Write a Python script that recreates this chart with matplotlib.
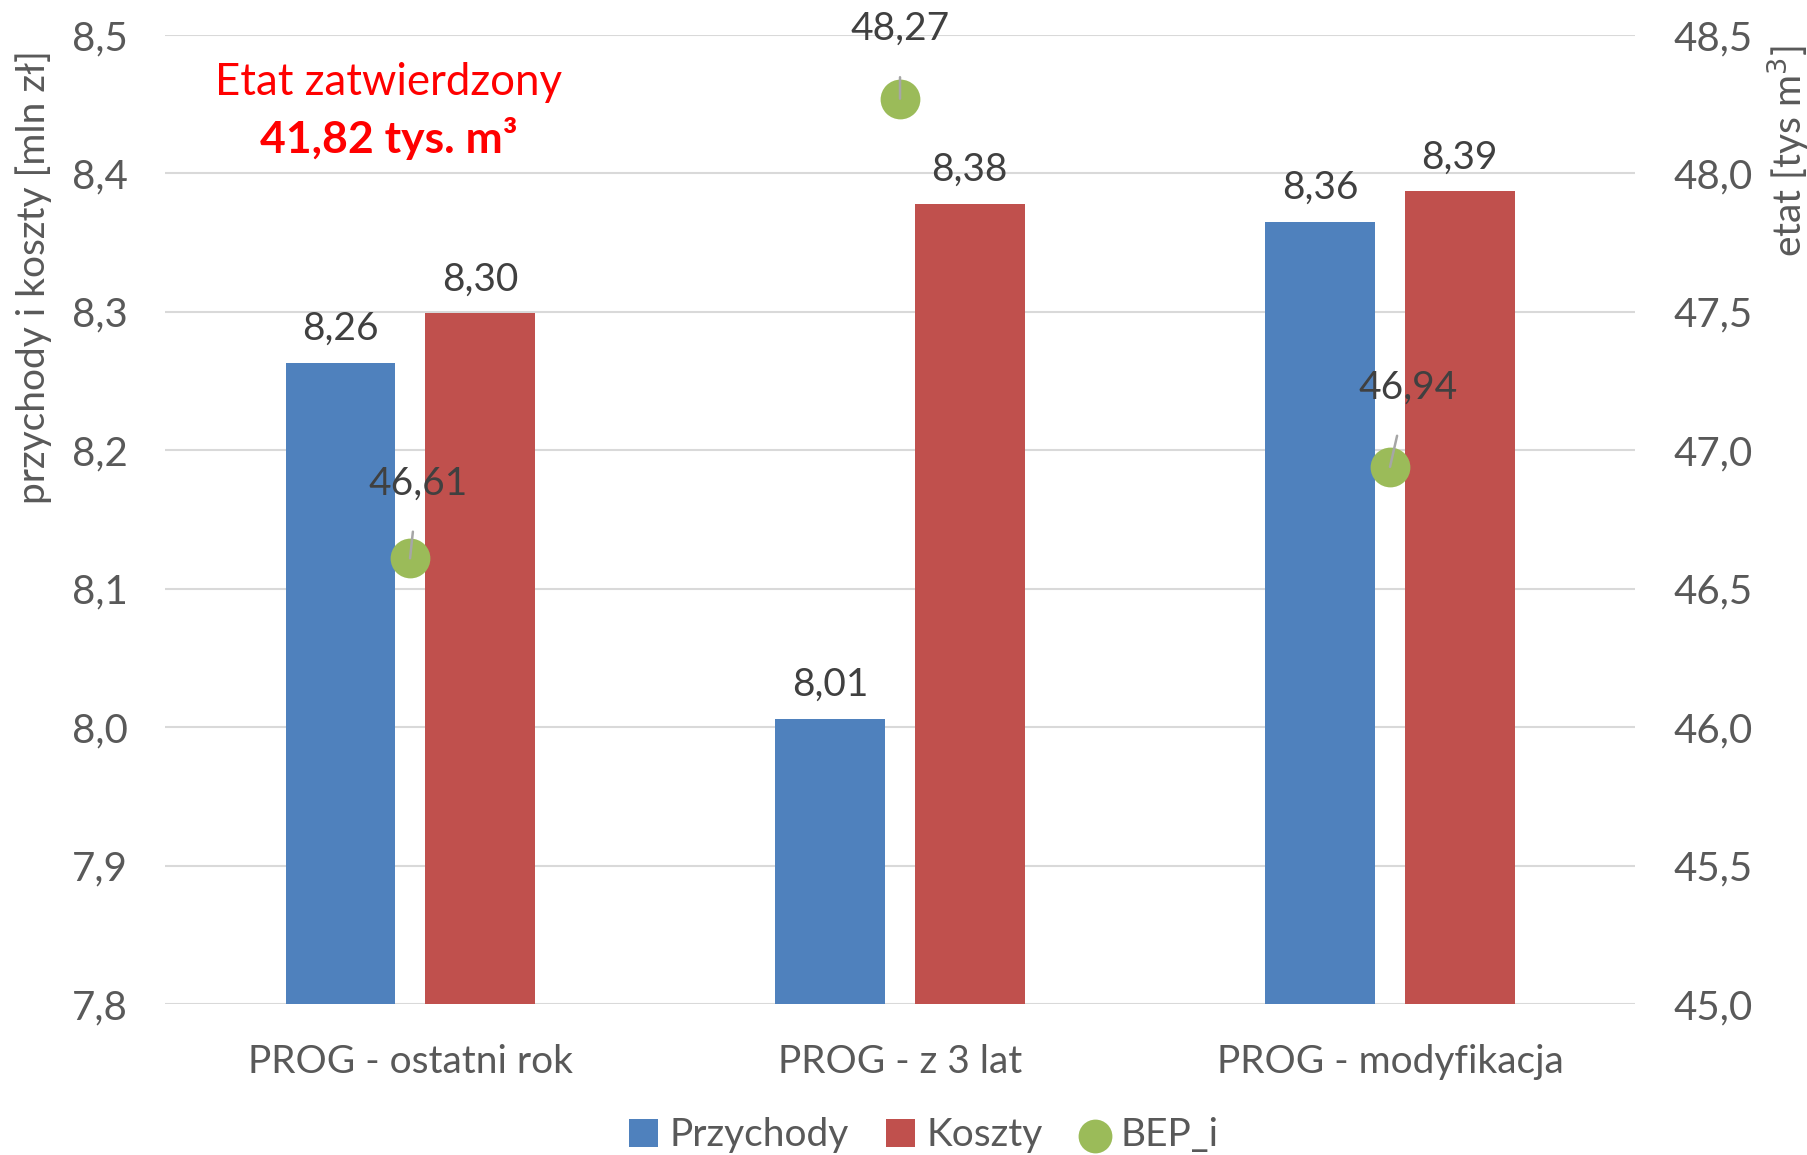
import matplotlib
matplotlib.use("Agg")
import matplotlib.pyplot as plt
import numpy as np

categories = ["PROG - ostatni rok", "PROG - z 3 lat", "PROG - modyfikacja"]
przychody = [8.263, 8.006, 8.365]
koszty = [8.299, 8.378, 8.387]
bep_i = [46.61, 48.27, 46.94]
przychody_labels = ["8,26", "8,01", "8,36"]
koszty_labels = ["8,30", "8,38", "8,39"]
bep_labels = ["46,61", "48,27", "46,94"]
left_ticks = [7.8, 7.9, 8.0, 8.1, 8.2, 8.3, 8.4, 8.5]
right_ticks = [45.0, 45.5, 46.0, 46.5, 47.0, 47.5, 48.0, 48.5]

plt.rcParams['font.family'] = ['Lato', 'DejaVu Sans']

BLUE = "#4F81BD"
RED = "#C0504D"
GREEN = "#9BBB59"
TICK = "#595959"
LAB = "#404040"
FS = 28

fig = plt.figure(figsize=(18.08, 11.55), dpi=100)
ax = fig.add_axes([0.0913, 0.1307, 0.9043 - 0.0913, 0.9697 - 0.1307])
ax2 = ax.twinx()

x = np.arange(len(categories))
w = 0.2235
off = 0.1424
b1 = ax.bar(x - off, przychody, w, color=BLUE, zorder=3, label="Przychody")
b2 = ax.bar(x + off, koszty, w, color=RED, zorder=3, label="Koszty")

ax.set_ylim(7.8, 8.5)
ax.set_xlim(-0.5, 2.5)
ax.set_yticks(left_ticks)
ax.set_yticklabels([f"{t:.1f}".replace(".", ",") for t in left_ticks])
ax.grid(axis="y", color="#D9D9D9", linewidth=1.5, zorder=0)
ax.set_axisbelow(True)
for s in ax.spines.values():
    s.set_visible(False)
for s in ax2.spines.values():
    s.set_visible(False)
ax.tick_params(axis="y", length=0, pad=27, labelsize=29, labelcolor=TICK)
ax.tick_params(axis="x", length=0, pad=29, labelsize=FS, labelcolor=TICK)
ax.set_xticks(x)
ax.set_xticklabels(categories)
ax.set_ylabel("przychody i koszty [mln zł]", fontsize=FS, color=TICK)
ax.yaxis.set_label_coords(-0.077, 0.75)

for rect, lab in zip(list(b1) + list(b2), przychody_labels + koszty_labels):
    ax.annotate(lab, (rect.get_x() + rect.get_width() / 2, rect.get_height()),
                xytext=(0, 16), textcoords="offset pixels", ha="center", va="bottom",
                fontsize=FS, color=LAB, zorder=5)

ax2.set_ylim(45.0, 48.5)
ax2.set_yticks(right_ticks)
ax2.set_yticklabels([f"{t:.1f}".replace(".", ",") for t in right_ticks])
ax2.tick_params(axis="y", length=0, pad=28, labelsize=29, labelcolor=TICK)
ax2.set_ylabel("etat [tys m$^3$]", fontsize=FS, color=TICK, rotation=90)
ax2.yaxis.set_label_coords(1.088, 0.88)
sc = ax2.scatter(x, bep_i, s=820, color=GREEN, zorder=4, label="BEP_i", linewidths=0)

offsets = [(8, 75), (0, 70), (18, 79)]
for xi, yi, lab, (dx, dy) in zip(x, bep_i, bep_labels, offsets):
    ax2.annotate(lab, (xi, yi), xytext=(dx, dy), textcoords="offset pixels",
                 ha="center", va="center", fontsize=FS, color=LAB,
                 arrowprops=dict(arrowstyle="-", color="#A6A6A6", lw=1.8,
                                 shrinkA=20, shrinkB=0), zorder=6)

fig.text(0.215, 0.929, "Etat zatwierdzony", color="red", fontsize=31.5,
         ha="center", va="center")
fig.text(0.215, 0.880, "41,82 tys. m³", color="red", fontsize=32,
         fontweight="bold", ha="center", va="center")

handles = [b1, b2, sc]
leg = fig.legend(handles, ["Przychody", "Koszty", "BEP_i"], loc="center",
                 bbox_to_anchor=(0.511, 0.017), ncol=3, frameon=False,
                 fontsize=FS, handlelength=0.75, handleheight=0.75,
                 handletextpad=0.3, columnspacing=0.95, markerscale=0.85)
for t in leg.get_texts():
    t.set_color(TICK)

fig.savefig("out.png", dpi=100)
